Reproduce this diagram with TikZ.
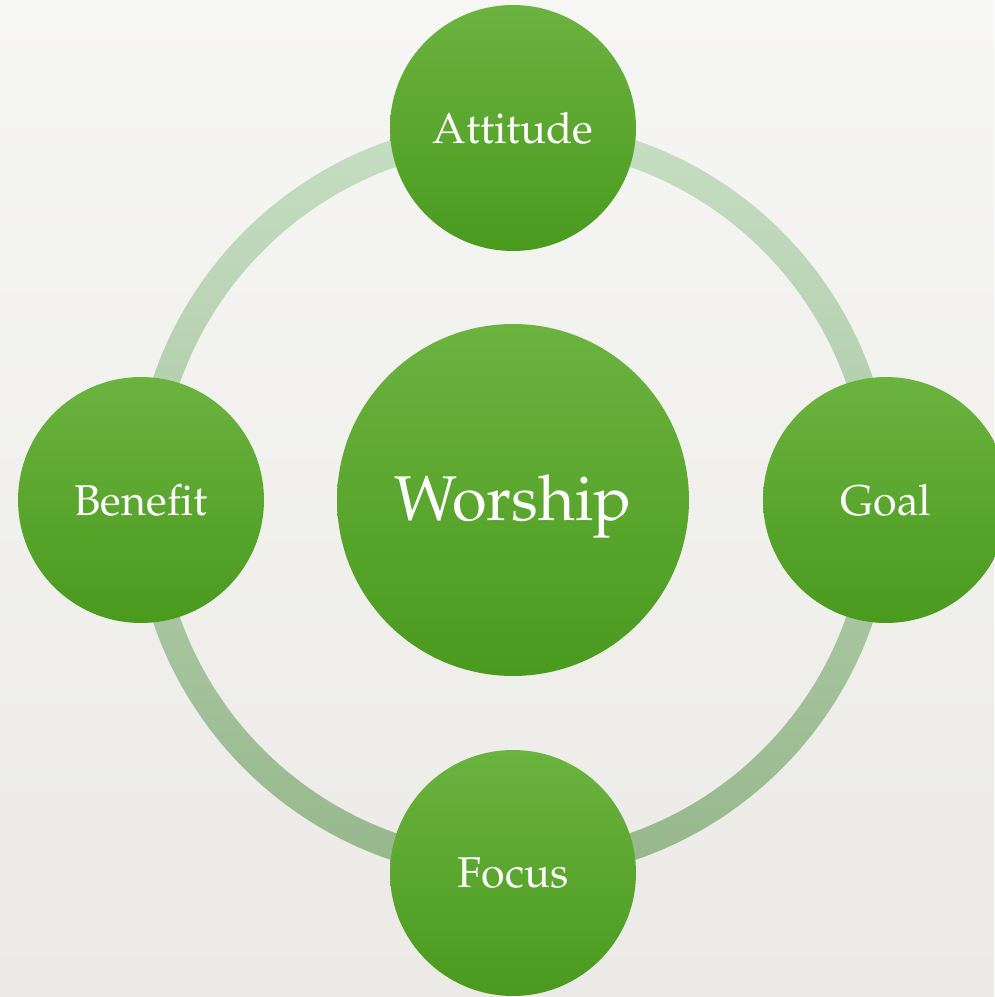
\documentclass[tikz,border=0pt]{standalone}
\usepackage[T1]{fontenc}
\usepackage{mathpazo}
\usepackage{tikz}
\usetikzlibrary{positioning}

\definecolor{bgtop}{HTML}{F6F6F4}
\definecolor{bgbot}{HTML}{EBEAE6}
\definecolor{leaftop}{HTML}{6BB33F}
\definecolor{leafbot}{HTML}{4A9A1E}
\definecolor{ringtop}{HTML}{C6DEC3}
\definecolor{ringmid}{HTML}{A9CA9F}
\definecolor{ringbot}{HTML}{96B78C}

\tikzset{
    bubble/.style={circle, inner sep=0pt, minimum size=4.92cm,
        top color=leaftop, bottom color=leafbot,
        text=white, font=\fontsize{24.5}{28}\selectfont},
    hub/.style={bubble, minimum size=7.04cm,
        font=\fontsize{36}{40}\selectfont}
}

\begin{document}
\begin{tikzpicture}[x=0.02cm, y=-0.02cm]
        % page and background
        \shade[top color=bgtop, bottom color=bgbot]
            (0,0) rectangle (994,997);
        \useasboundingbox (0,0) rectangle (994,997);

        % ring behind the circles
        \coordinate (c) at (513,500);
        \shade[top color=ringtop, middle color=ringmid,
            bottom color=ringbot, even odd rule]
            (c) circle (380) (c) circle (353);

        \node[hub, text depth=0.1cm] (worship) at (c) {Worship};
        \node[bubble] (attitude) at (513,128) {Attitude};
        \node[bubble] (goal) at (886,500) {Goal};
        \node[bubble] (focus) at (513,873) {Focus};
        \node[bubble] (benefit) at (141,500) {Benefit};
    \end{tikzpicture}
\end{document}
